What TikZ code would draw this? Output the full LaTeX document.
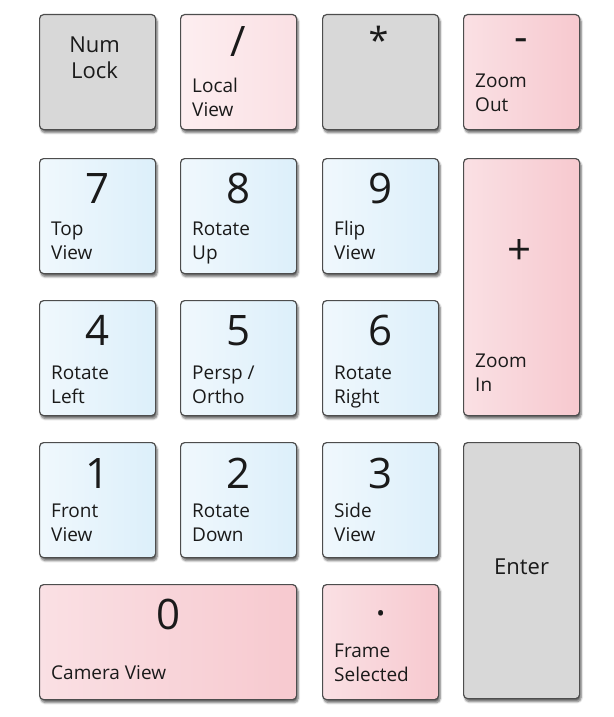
\documentclass[tikz,border=0pt]{standalone}
\usepackage{fontspec}
\setmainfont{Open Sans}
\usepackage{tikz}
\usetikzlibrary{calc,shadows,shadows.blur}

\definecolor{keygray}{HTML}{D8D8D8}
\definecolor{keyedge}{HTML}{4D4D4D}
\definecolor{blueL}{HTML}{F0F8FD}
\definecolor{blueR}{HTML}{DCEFFA}
\definecolor{pinkL}{HTML}{FAE0E4}
\definecolor{pinkR}{HTML}{F7C9CF}
\definecolor{pinkpale}{HTML}{FDEEF0}
\definecolor{ink}{HTML}{1A1A1A}

\begin{document}
\begin{tikzpicture}[x=1pt,y=-1pt,
  key/.style={draw=keyedge, line width=1.2pt, rounded corners=4pt, minimum width=116pt, minimum height=115pt, inner sep=0pt, anchor=north west,
    blur shadow={shadow xshift=1.5pt, shadow yshift=-3pt, shadow opacity=60, shadow blur steps=6}},
  graykey/.style={key, fill=keygray},
  bluekey/.style={key, left color=blueL, right color=blueR},
  pinkkey/.style={key, left color=pinkL, right color=pinkR},
  digit/.style={text=ink, font=\fontsize{42}{50}\selectfont, inner sep=0pt, anchor=base},
  sym/.style={text=ink, font=\fontsize{42}{50}\selectfont, inner sep=0pt, anchor=center},
  keylabel/.style={text=ink, font=\fontsize{19}{24}\selectfont, inner sep=0pt, align=left, anchor=base west},
  biglabel/.style={text=ink, font=\fontsize{22}{26}\selectfont, inner sep=0pt, align=center, anchor=base}]

\useasboundingbox (0,0) rectangle (613,717);

\node[graykey] (kNum) at (39,14) {};
\node[pinkkey, left color=pinkpale, right color=pinkL] (kDiv) at (180,14) {};
\node[graykey] (kMul) at (322,14) {};
\node[pinkkey] (kSub) at (463,14) {};

\node[bluekey] (k7) at (39,158) {};
\node[bluekey] (k8) at (180,158) {};
\node[bluekey] (k9) at (322,158) {};
\node[pinkkey, minimum height=257pt] (kAdd) at (463,158) {};

\node[bluekey] (k4) at (39,300) {};
\node[bluekey] (k5) at (180,300) {};
\node[bluekey] (k6) at (322,300) {};

\node[bluekey] (k1) at (39,442) {};
\node[bluekey] (k2) at (180,442) {};
\node[bluekey] (k3) at (322,442) {};
\node[graykey, minimum height=256pt] (kEnt) at (463,442) {};

\node[pinkkey, minimum width=257pt] (k0) at (39,584) {};
\node[pinkkey] (kDot) at (322,584) {};

\node[biglabel] (tNum) at ($(kNum.north)+(-3,64)$) {Num\\Lock};
\node[sym] (sDiv) at ($(kDiv.north)+(0,28)$) {/};
\node[keylabel] (tDiv) at ($(kDiv.north west)+(12,102)$) {Local\\View};
\node[digit, font=\fontsize{36}{40}\selectfont] (sMul) at ($(kMul.north)+(-2,39)$) {*};
\node[digit] (sSub) at ($(kSub.north)+(0,38)$) {-};
\node[keylabel] (tSub) at ($(kSub.north west)+(12,97)$) {Zoom\\Out};

\node[digit] (d7) at ($(k7.north)+(0,45)$) {7};
\node[keylabel] (t7) at ($(k7.north west)+(12,101)$) {Top\\View};
\node[digit] (d8) at ($(k8.north)+(0,45)$) {8};
\node[keylabel] (t8) at ($(k8.north west)+(12,101)$) {Rotate\\Up};
\node[digit] (d9) at ($(k9.north)+(0,45)$) {9};
\node[keylabel] (t9) at ($(k9.north west)+(12,101)$) {Flip\\View};
\node[digit] (sAdd) at ($(kAdd.north)+(-2,106)$) {+};
\node[keylabel] (tAdd) at ($(kAdd.north west)+(12,233)$) {Zoom\\In};

\node[digit] (d4) at ($(k4.north)+(0,45)$) {4};
\node[keylabel] (t4) at ($(k4.north west)+(12,103)$) {Rotate\\Left};
\node[digit] (d5) at ($(k5.north)+(0,45)$) {5};
\node[keylabel] (t5) at ($(k5.north west)+(12,103)$) {Persp /\\Ortho};
\node[digit] (d6) at ($(k6.north)+(0,45)$) {6};
\node[keylabel] (t6) at ($(k6.north west)+(12,103)$) {Rotate\\Right};

\node[digit] (d1) at ($(k1.north)+(0,46)$) {1};
\node[keylabel] (t1) at ($(k1.north west)+(12,99)$) {Front\\View};
\node[digit] (d2) at ($(k2.north)+(0,46)$) {2};
\node[keylabel] (t2) at ($(k2.north west)+(12,99)$) {Rotate\\Down};
\node[digit] (d3) at ($(k3.north)+(0,46)$) {3};
\node[keylabel] (t3) at ($(k3.north west)+(12,99)$) {Side\\View};
\node[biglabel] (tEnt) at ($(kEnt.center)+(0,4)$) {Enter};

\node[digit] (d0) at ($(k0.north)+(0,45)$) {0};
\node[keylabel] (t0) at ($(k0.north west)+(12,95)$) {Camera View};
\node[sym] (sDot) at ($(kDot.north)+(0,29)$) {.};
\node[keylabel] (tDot) at ($(kDot.north west)+(12,97)$) {Frame\\Selected};

\end{tikzpicture}
\end{document}
